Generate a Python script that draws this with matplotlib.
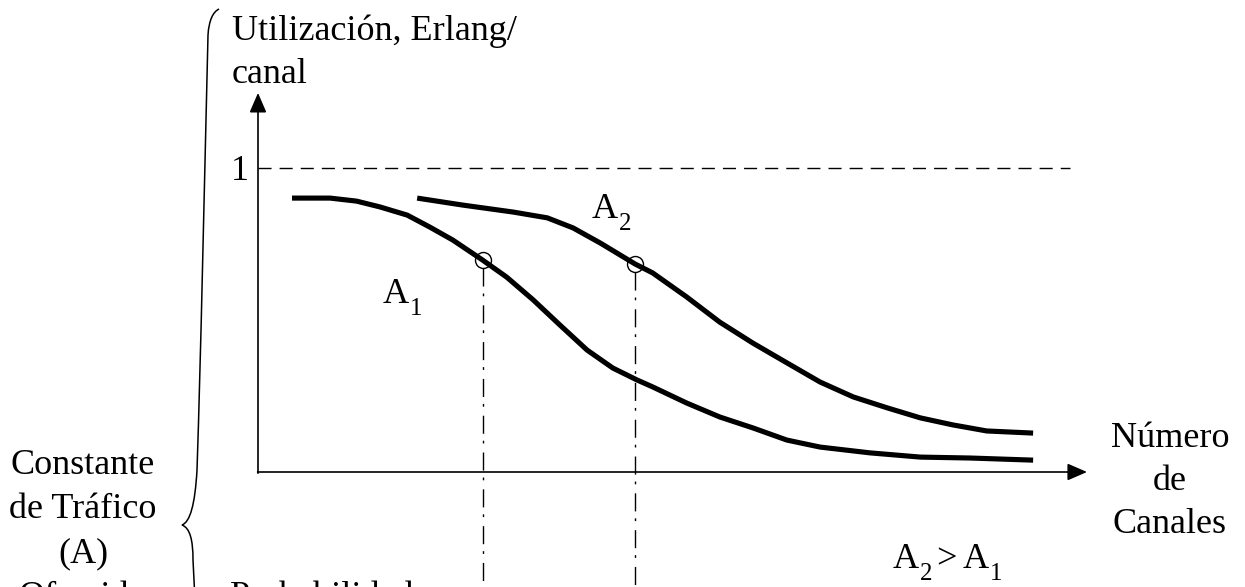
import matplotlib
matplotlib.use("Agg")
import matplotlib.pyplot as plt
from matplotlib.path import Path
from matplotlib.patches import PathPatch

# ---- data (x: channel-number axis, % of axis length; y: Erlang/channel) ----
a1_x = [4.1, 8.7, 11.9, 14.7, 18.0, 20.7, 23.5, 27.1, 30.0, 33.2, 36.4, 39.7,
        42.8, 45.7, 47.6, 51.7, 55.7, 59.7, 63.8, 67.8, 73.8, 79.9, 85.9, 93.5]
a1_y = [0.901, 0.901, 0.891, 0.872, 0.845, 0.806, 0.763, 0.697, 0.641, 0.566,
        0.484, 0.401, 0.342, 0.303, 0.280, 0.227, 0.181, 0.145, 0.105, 0.082,
        0.063, 0.049, 0.046, 0.039]
a2_x = [19.2, 24.7, 30.8, 34.9, 38.0, 41.3, 45.5, 47.6, 51.7, 55.7, 59.7,
        63.8, 67.8, 71.8, 75.9, 79.9, 83.8, 87.9, 93.5]
a2_y = [0.901, 0.878, 0.855, 0.836, 0.803, 0.753, 0.684, 0.655, 0.576, 0.493,
        0.424, 0.359, 0.296, 0.247, 0.211, 0.178, 0.155, 0.135, 0.128]
op_x = [27.1, 45.5]          # operating points (circles)
op_y = [0.697, 0.684]
ref_level = 1.0              # dashed line "1"
ref_end = 97.9
x_axis_end = 100.0
y_axis_end = 1.247

W, H = 1245, 587
fig = plt.figure(figsize=(W / 100, H / 100), dpi=100)
fig.patch.set_facecolor("white")

# main axes in data units: origin at pixel (258, 472)
ax = fig.add_axes([0, 0, 1, 1])
ax.set_xlim(-258 / 8.29, (W - 258) / 8.29)
ax.set_ylim(-(H - 472) / 304, 472 / 304)
ax.axis("off")

# axes arrows
arrow_kw = dict(arrowstyle="-|>,head_length=12,head_width=5.2", lw=1.2,
                color="black", shrinkA=0, shrinkB=0, mutation_scale=1)
ax.annotate("", xy=(0, y_axis_end), xytext=(0, -0.004), arrowprops=arrow_kw)
ax.annotate("", xy=(x_axis_end, 0), xytext=(-0.05, 0), arrowprops=arrow_kw)

# dashed reference at 1
ax.plot([0, ref_end], [ref_level, ref_level], color="black", lw=1.0,
        ls=(0, (9.4, 5.8)))

# curves
for xs, ys in ((a1_x, a1_y), (a2_x, a2_y)):
    ax.plot(xs, ys, color="black", lw=3.7, solid_joinstyle="round",
            solid_capstyle="butt")

# dash-dot verticals + circles
r = 8 / 304
for x, y in zip(op_x, op_y):
    ax.plot([x, x], [y - r, -0.5], color="black", lw=1.0,
            ls=(0, (13, 5, 2, 6.5)), clip_on=False)
ax.plot(op_x, op_y, ls="none", marker="o", ms=11.5, mfc="none", mec="black",
        mew=1.0)

# overlay in pixel coords for annotations
ov = fig.add_axes([0, 0, 1, 1])
ov.set_xlim(0, W)
ov.set_ylim(H, 0)
ov.axis("off")
ov.patch.set_alpha(0)

FONT = "Liberation Serif"
FS = 26
SUB = 18
renderer = fig.canvas.get_renderer()

def t(x, y, s, ha="left", size=FS):
    return ov.text(x, y, s, ha=ha, va="baseline", fontsize=size, family=FONT,
                   color="black", clip_on=False)

def right_edge(txt):
    bb = txt.get_window_extent(renderer=renderer)
    return ov.transData.inverted().transform((bb.x1, bb.y0))[0]

def with_sub(x, y, base, sub, dx=1, dy=12):
    a = t(x, y, base)
    xe = right_edge(a)
    s = t(xe + dx, y + dy, sub, size=SUB)
    return right_edge(s)

t(232, 40, "Utilización, Erlang/")
t(232, 83, "canal")
t(231, 180, "1")

with_sub(592, 218, "A", "2")
with_sub(383, 303, "A", "1")

t(1170, 447, "Número", ha="center")
t(1170, 490, "de", ha="center")
t(1170, 533, "Canales", ha="center")

xe = with_sub(893, 568, "A", "2")
t(xe + 3, 568, ">")
with_sub(963, 568, "A", "1")

t(83, 474, "Constante", ha="center")
t(83, 518, "de Tráfico", ha="center")
t(83, 562, "(A)", ha="center")
t(83, 606, "Ofrecido", ha="center")
t(230, 606, "Probabilidad")

# curly brace
verts = [(219, 9),
         (213, 12), (209, 20), (208, 35),
         (204, 200), (201, 350), (197, 470),
         (195, 505), (190, 522), (182, 525),
         (190, 528), (193, 540), (193, 560),
         (195, 600)]
codes = [Path.MOVETO,
         Path.CURVE4, Path.CURVE4, Path.CURVE4,
         Path.CURVE4, Path.CURVE4, Path.CURVE4,
         Path.CURVE4, Path.CURVE4, Path.CURVE4,
         Path.CURVE4, Path.CURVE4, Path.CURVE4,
         Path.LINETO]
ov.add_patch(PathPatch(Path(verts, codes), fc="none", ec="black", lw=1.1,
                       clip_on=False))

fig.savefig("out.png", dpi=100)
